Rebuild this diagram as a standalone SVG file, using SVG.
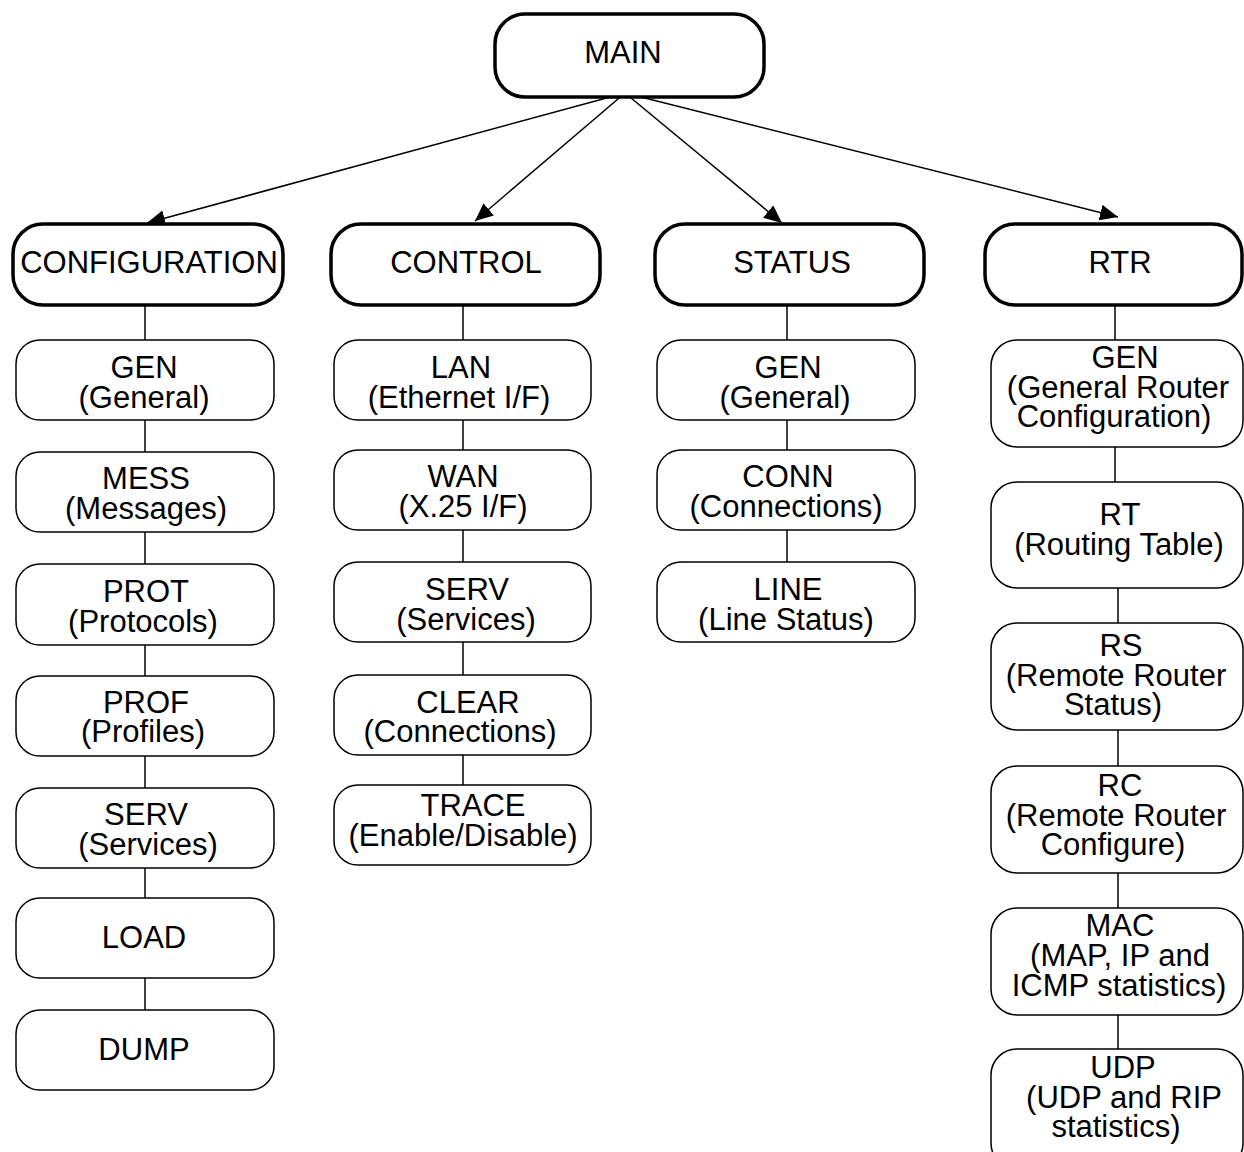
<svg xmlns="http://www.w3.org/2000/svg" width="1244" height="1152" viewBox="0 0 1244 1152">
<style>
.top{fill:#fff;stroke:#000;stroke-width:3.5}
.sub{fill:#fff;stroke:#000;stroke-width:1.5}
text{font-family:"Liberation Sans",Arial,sans-serif;font-size:31px;fill:#000;text-anchor:middle}
.conn line{stroke:#000;stroke-width:1.5}
</style>
<defs>
<marker id="ah" markerUnits="userSpaceOnUse" markerWidth="20" markerHeight="16" refX="18" refY="8" orient="auto">
<path d="M0,0 L18,8 L0,16 Z" fill="#000"/>
</marker>
</defs>
<rect width="1244" height="1152" fill="#fff"/>
<g id="connectors" class="conn">
<line x1="625" y1="93" x2="147" y2="223" marker-end="url(#ah)"/>
<line x1="625" y1="93" x2="475" y2="221" marker-end="url(#ah)"/>
<line x1="625" y1="93" x2="782" y2="223" marker-end="url(#ah)"/>
<line x1="625" y1="93" x2="1118" y2="217" marker-end="url(#ah)"/>
<line x1="145" y1="305" x2="145" y2="340"/>
<line x1="145" y1="420" x2="145" y2="452"/>
<line x1="145" y1="532" x2="145" y2="564"/>
<line x1="145" y1="645" x2="145" y2="676"/>
<line x1="145" y1="756" x2="145" y2="788"/>
<line x1="145" y1="868" x2="145" y2="898"/>
<line x1="145" y1="978" x2="145" y2="1010"/>
<line x1="463" y1="306" x2="463" y2="340"/>
<line x1="463" y1="420" x2="463" y2="450"/>
<line x1="463" y1="530" x2="463" y2="562"/>
<line x1="463" y1="642" x2="463" y2="675"/>
<line x1="463" y1="755" x2="463" y2="785"/>
<line x1="787" y1="306" x2="787" y2="340"/>
<line x1="787" y1="420" x2="787" y2="450"/>
<line x1="787" y1="530" x2="787" y2="562"/>
<line x1="1115" y1="306" x2="1115" y2="340"/>
<line x1="1115" y1="447" x2="1115" y2="482"/>
<line x1="1118" y1="588" x2="1118" y2="623"/>
<line x1="1118" y1="730" x2="1118" y2="766"/>
<line x1="1118" y1="873" x2="1118" y2="908"/>
<line x1="1118" y1="1015" x2="1118" y2="1049"/>
</g>
<g id="main"><rect class="top" x="495" y="14" width="269" height="83" rx="30"/><text x="623" y="63">MAIN</text></g>
<g id="configuration"><rect class="top" x="13" y="224" width="270" height="81" rx="30"/><text x="149" y="273">CONFIGURATION</text></g>
<g id="control"><rect class="top" x="331" y="224" width="269" height="81" rx="30"/><text x="466" y="273">CONTROL</text></g>
<g id="status"><rect class="top" x="655" y="224" width="269" height="81" rx="30"/><text x="792" y="273">STATUS</text></g>
<g id="rtr"><rect class="top" x="985" y="224" width="257" height="81" rx="30"/><text x="1120" y="273">RTR</text></g>

<g id="cfg-gen"><rect class="sub" x="16" y="340" width="258" height="80" rx="24"/><text x="144" y="378">GEN</text><text x="144" y="408">(General)</text></g>
<g id="cfg-mess"><rect class="sub" x="16" y="452" width="258" height="80" rx="24"/><text x="146" y="489">MESS</text><text x="146" y="519">(Messages)</text></g>
<g id="cfg-prot"><rect class="sub" x="16" y="564" width="258" height="81" rx="24"/><text x="146" y="602">PROT</text><text x="143" y="632">(Protocols)</text></g>
<g id="cfg-prof"><rect class="sub" x="16" y="676" width="258" height="80" rx="24"/><text x="146" y="713">PROF</text><text x="143" y="742">(Profiles)</text></g>
<g id="cfg-serv"><rect class="sub" x="16" y="788" width="258" height="80" rx="24"/><text x="146" y="825">SERV</text><text x="148" y="855">(Services)</text></g>
<g id="cfg-load"><rect class="sub" x="16" y="898" width="258" height="80" rx="24"/><text x="144" y="948">LOAD</text></g>
<g id="cfg-dump"><rect class="sub" x="16" y="1010" width="258" height="80" rx="24"/><text x="144" y="1060">DUMP</text></g>

<g id="ctl-lan"><rect class="sub" x="334" y="340" width="257" height="80" rx="24"/><text x="461" y="378">LAN</text><text x="459" y="408">(Ethernet I/F)</text></g>
<g id="ctl-wan"><rect class="sub" x="334" y="450" width="257" height="80" rx="24"/><text x="463" y="487">WAN</text><text x="463" y="517">(X.25 I/F)</text></g>
<g id="ctl-serv"><rect class="sub" x="334" y="562" width="257" height="80" rx="24"/><text x="467" y="600">SERV</text><text x="466" y="630">(Services)</text></g>
<g id="ctl-clear"><rect class="sub" x="334" y="675" width="257" height="80" rx="24"/><text x="468" y="713">CLEAR</text><text x="460" y="742">(Connections)</text></g>
<g id="ctl-trace"><rect class="sub" x="334" y="785" width="257" height="80" rx="24"/><text x="473" y="816">TRACE</text><text x="463" y="846">(Enable/Disable)</text></g>

<g id="st-gen"><rect class="sub" x="657" y="340" width="258" height="80" rx="24"/><text x="788" y="378">GEN</text><text x="785" y="408">(General)</text></g>
<g id="st-conn"><rect class="sub" x="657" y="450" width="258" height="80" rx="24"/><text x="788" y="487">CONN</text><text x="786" y="517">(Connections)</text></g>
<g id="st-line"><rect class="sub" x="657" y="562" width="258" height="80" rx="24"/><text x="788" y="600">LINE</text><text x="786" y="630">(Line Status)</text></g>

<g id="rtr-gen"><rect class="sub" x="991" y="340" width="252" height="107" rx="26"/><text x="1125" y="368">GEN</text><text x="1118" y="398">(General Router</text><text x="1114" y="427">Configuration)</text></g>
<g id="rtr-rt"><rect class="sub" x="991" y="482" width="252" height="106" rx="26"/><text x="1120" y="525">RT</text><text x="1119" y="555">(Routing Table)</text></g>
<g id="rtr-rs"><rect class="sub" x="991" y="623" width="252" height="107" rx="26"/><text x="1121" y="656">RS</text><text x="1116" y="686">(Remote Router</text><text x="1113" y="715">Status)</text></g>
<g id="rtr-rc"><rect class="sub" x="991" y="766" width="252" height="107" rx="26"/><text x="1120" y="796">RC</text><text x="1116" y="826">(Remote Router</text><text x="1113" y="855">Configure)</text></g>
<g id="rtr-mac"><rect class="sub" x="991" y="908" width="252" height="107" rx="26"/><text x="1120" y="936">MAC</text><text x="1120" y="966">(MAP, IP and</text><text x="1119" y="996">ICMP statistics)</text></g>
<g id="rtr-udp"><rect class="sub" x="991" y="1049" width="252" height="120" rx="26"/><text x="1123" y="1078">UDP</text><text x="1124" y="1108">(UDP and RIP</text><text x="1116" y="1137">statistics)</text></g>
</svg>
